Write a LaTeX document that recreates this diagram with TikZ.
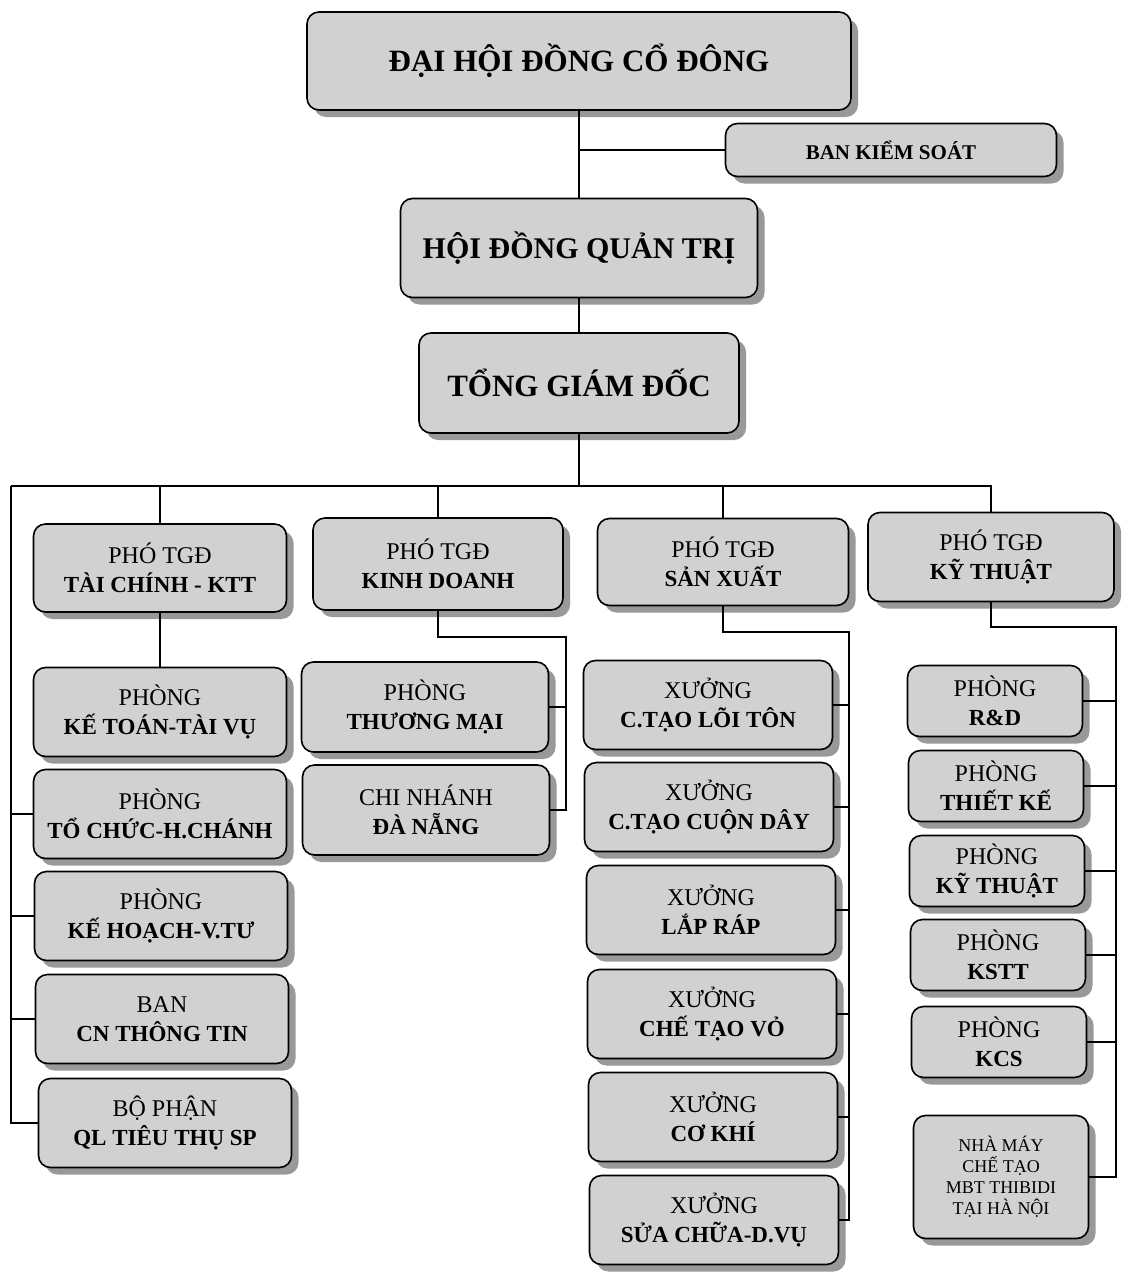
\documentclass[tikz,border=0pt]{standalone}
\usepackage{fontspec}
\setmainfont{Liberation Serif}
\usetikzlibrary{shadows}
\tikzstyle{khoi}=[draw, line width=1.6pt, fill=black!18, rounded corners=12pt,
  align=center, inner sep=2pt, font=\fontsize{24}{29}\selectfont,
  drop shadow={shadow xshift=7pt, shadow yshift=-7pt, fill=black!40, opacity=1}]
\tikzstyle{caplon} = [khoi, font=\fontsize{31}{36}\selectfont\bfseries]
\tikzstyle{cot1} = [khoi, minimum width=253pt, minimum height=89pt]
\tikzstyle{cot2} = [khoi, minimum width=247pt, minimum height=90pt]
\tikzstyle{cot3} = [khoi, minimum width=249pt, minimum height=89pt]
\tikzstyle{cot4} = [khoi, minimum width=175pt, minimum height=71pt]
\tikzstyle{duong} = [draw, line width=1.3pt, black]
\newcommand{\donvi}[4]{node (#1) [#2]
  {#3\\{\fontsize{23}{29}\selectfont\bfseries #4}}}
\newcommand{\captren}[3]{node (#1) [caplon, #2] {#3}}

\begin{document}
\begin{tikzpicture}[x=1pt,y=-1pt]
  \useasboundingbox (0,0) rectangle (1123,1272);

  % cap tren
  \path (579,61) \captren{dhcd}{minimum width=544pt, minimum height=98pt}{ĐẠI HỘI ĐỒNG CỔ ĐÔNG};
  \path (891,150) \captren{ks}{minimum width=331pt, minimum height=53pt,
    font=\fontsize{21}{24}\selectfont\bfseries}{BAN KIỂM SOÁT};
  \path (579,248) \captren{hdqt}{minimum width=357pt, minimum height=99pt,
    font=\fontsize{30}{36}\selectfont\bfseries}{HỘI ĐỒNG QUẢN TRỊ};
  \path (579,383) \captren{tgd}{minimum width=320pt, minimum height=100pt}{TỔNG GIÁM ĐỐC};

  % pho tong giam doc
  \path (160,568) \donvi{ptc}{cot1, minimum height=88pt}{PHÓ TGĐ}{TÀI CHÍNH - KTT};
  \path (438,564) \donvi{pkd}{cot2, minimum width=250pt, minimum height=92pt}{PHÓ TGĐ}{KINH DOANH};
  \path (723,562) \donvi{psx}{cot3, minimum width=251pt, minimum height=87pt}{PHÓ TGĐ}{SẢN XUẤT};
  \path (991,557) \donvi{pkt}{cot3, minimum width=246pt}{PHÓ TGĐ}{KỸ THUẬT};

  % khoi tai chinh
  \path (160,712) \donvi{ketoan}{cot1}{PHÒNG}{KẾ TOÁN-TÀI VỤ};
  \path (ketoan)+(0,102) \donvi{tochuc}{cot1}{PHÒNG}{TỔ CHỨC-H.CHÁNH};
  \path (ketoan)+(1,204) \donvi{kehoach}{cot1}{PHÒNG}{KẾ HOẠCH-V.TƯ};
  \path (ketoan)+(2,307) \donvi{bancn}{cot1}{BAN}{CN THÔNG TIN};
  \path (ketoan)+(5,411) \donvi{qltt}{cot1}{BỘ PHẬN}{QL TIÊU THỤ SP};

  % khoi kinh doanh
  \path (425,707) \donvi{thuongmai}{cot2}{PHÒNG}{THƯƠNG MẠI};
  \path (thuongmai)+(1,103) \donvi{chinhanh}{cot2}{CHI NHÁNH}{ĐÀ NẴNG};

  % khoi san xuat
  \path (708,705) \donvi{loiton}{cot3}{XƯỞNG}{C.TẠO LÕI TÔN};
  \path (loiton)+(1,102) \donvi{cuonday}{cot3}{XƯỞNG}{C.TẠO CUỘN DÂY};
  \path (loiton)+(3,205) \donvi{laprap}{cot3}{XƯỞNG}{LẮP RÁP};
  \path (loiton)+(4,309) \donvi{vo}{cot3}{XƯỞNG}{CHẾ TẠO VỎ};
  \path (loiton)+(5,412) \donvi{cokhi}{cot3}{XƯỞNG}{CƠ KHÍ};
  \path (loiton)+(6,515) \donvi{suachua}{cot3}{XƯỞNG}{SỬA CHỮA-D.VỤ};

  % khoi ky thuat
  \path (995,701) \donvi{rd}{cot4}{PHÒNG}{R\&D};
  \path (rd)+(1,85) \donvi{thietke}{cot4}{PHÒNG}{THIẾT KẾ};
  \path (rd)+(2,170) \donvi{kythuat}{cot4}{PHÒNG}{KỸ THUẬT};
  \path (rd)+(3,254) \donvi{kstt}{cot4}{PHÒNG}{KSTT};
  \path (rd)+(4,341) \donvi{kcs}{cot4}{PHÒNG}{KCS};
  \path (rd)+(6,476) node (nhamay) [cot4, minimum height=123pt,
    font=\fontsize{18}{21}\selectfont] {NHÀ MÁY\\CHẾ TẠO\\MBT THIBIDI\\TẠI HÀ NỘI};

  % duong noi
  \coordinate (trai) at (11,486);
  \coordinate (kdre) at (566,637);
  \coordinate (sxre) at (849,632);
  \coordinate (ktre) at (1116,627);
  \path [duong] (dhcd.south) -- (hdqt.north);
  \path [duong] (ks.west) -- (ks.west -| dhcd.south);
  \path [duong] (hdqt.south) -- (tgd.north);
  \path [duong] (tgd.south) -- (tgd.south |- trai);
  \path [duong] (trai) -- (trai -| pkt.north) -- (pkt.north);
  \foreach \p in {ptc,pkd,psx}
    \path [duong] (trai -| \p.north) -- (\p.north);
  \path [duong] (trai) |- (qltt.west);
  \foreach \p in {tochuc,kehoach,bancn}
    \path [duong] (\p.west) -- (\p.west -| trai);
  \path [duong] (ptc.south) -- (ketoan.north);
  \path [duong] (pkd.south) |- (kdre) |- (chinhanh.east);
  \path [duong] (thuongmai.east) -- (thuongmai.east -| kdre);
  \path [duong] (psx.south) |- (sxre) |- (suachua.east);
  \foreach \p in {loiton,cuonday,laprap,vo,cokhi}
    \path [duong] (\p.east) -- (\p.east -| sxre);
  \path [duong] (pkt.south) |- (ktre) |- (nhamay.east);
  \foreach \p in {rd,thietke,kythuat,kstt,kcs}
    \path [duong] (\p.east) -- (\p.east -| ktre);
\end{tikzpicture}
\end{document}
